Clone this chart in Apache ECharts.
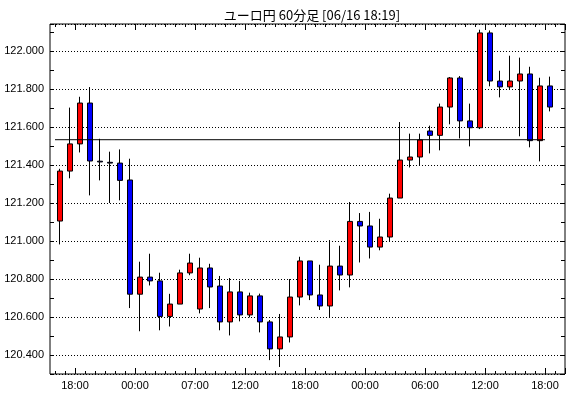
<!DOCTYPE html>
<html>
<head>
<meta charset="utf-8">
<script src="https://cdn.jsdelivr.net/npm/echarts@6/dist/echarts.min.js"></script>
<style>html,body{margin:0;padding:0;background:#fff}#c{width:570px;height:398px}</style>
</head>
<body>
<div id="c"></div>
<script>
const titleText = 'ユーロ円 60分足 [06/16 18:19]';

// hourly categories (last one is an empty slot at the right edge)
const times = ['16:00','17:00','18:00','19:00','20:00','21:00','22:00','23:00',
  '00:00','01:00','02:00','03:00','04:00','05:00','07:00','08:00','09:00','10:00','11:00',
  '12:00','13:00','14:00','15:00','16:00','17:00','18:00','19:00','20:00','21:00','22:00','23:00',
  '00:00','01:00','02:00','03:00','04:00','05:00','06:00','07:00','08:00','09:00','10:00','11:00',
  '12:00','13:00','14:00','15:00','16:00','17:00','18:00',''];
// indices of labelled (major) ticks
const majorIdx = [2, 8, 14, 19, 25, 31, 37, 43, 49];

const openVals  = [121.105,121.368,121.511,121.726,121.420,121.414,121.410,121.321,120.720,120.810,
  120.790,120.603,120.668,120.832,120.642,120.858,120.763,120.574,120.732,120.611,
  120.711,120.574,120.432,120.495,120.705,120.895,120.716,120.658,120.868,120.821,
  121.103,121.079,120.968,121.021,121.226,121.426,121.442,121.579,121.556,121.705,
  121.858,121.632,121.596,122.095,121.842,121.811,121.842,121.879,121.528,121.816];
const closeVals = [121.368,121.511,121.726,121.421,121.416,121.410,121.319,120.720,120.810,120.790,
  120.603,120.668,120.832,120.884,120.858,120.758,120.574,120.732,120.611,120.711,
  120.574,120.432,120.495,120.705,120.895,120.716,120.658,120.868,120.821,121.103,
  121.079,120.968,121.021,121.226,121.426,121.442,121.532,121.556,121.705,121.858,
  121.632,121.596,122.095,121.842,121.811,121.842,121.879,121.528,121.816,121.705];
const lowVals   = [120.982,121.330,121.466,121.240,121.319,121.200,121.214,120.647,120.525,120.766,
  120.530,120.550,120.668,120.820,120.619,120.647,120.530,120.503,120.577,120.598,
  120.519,120.373,120.337,120.466,120.661,120.689,120.637,120.600,120.740,120.756,
  120.887,120.908,120.951,120.998,121.226,121.387,121.400,121.461,121.477,121.614,
  121.540,121.498,121.589,121.814,121.756,121.800,121.551,121.493,121.419,121.682];
const highVals  = [121.380,121.702,121.759,121.810,121.538,121.470,121.482,121.433,120.891,120.933,
  120.833,120.722,120.849,120.933,120.912,120.880,120.816,120.805,120.790,120.728,
  120.723,120.584,120.616,120.800,120.917,120.895,120.875,121.005,120.975,121.205,
  121.147,121.153,121.117,121.249,121.626,121.565,121.565,121.607,121.723,121.863,
  121.868,121.723,122.112,122.108,121.896,121.975,121.965,121.917,121.859,121.865];

// reference level line (value) and its extent in candle-index units
const refLevel = 121.533;
const refFrom = -0.5, refTo = 48.5;

const yMin = 120.3, yMax = 122.142;

const candleData = openVals.map((o, i) => [o, closeVals[i], lowVals[i], highVals[i]]);
const isMajor = (i) => majorIdx.indexOf(i) >= 0;

const gridBase = {top: 24, bottom: 24, right: 5, containLabel: false, outerBoundsMode: 'none'};
const hiddenY = (g) => ({gridIndex: g, type: 'value', min: yMin, max: yMax, show: false});
const tickCat = (g, pos, len, interval, labels) => ({
  gridIndex: g, type: 'category', data: times, position: pos, boundaryGap: true,
  axisLine: {show: false},
  axisTick: {show: true, inside: true, length: len, interval: interval, lineStyle: {color: '#000', width: 1}},
  axisLabel: labels ? {
    show: true, interval: interval, color: '#000', fontFamily: 'Liberation Sans', fontSize: 11,
    margin: 6, padding: [0, 10, 0, 0]
  } : {show: false},
  splitLine: {show: false}
});

const chart = echarts.init(document.getElementById('c'), null, {renderer: 'canvas'});
chart.setOption({
  animation: false,
  backgroundColor: '#fff',
  title: {
    text: titleText, left: 307, top: 4, textAlign: 'center',
    textStyle: {fontFamily: 'Noto Sans CJK JP', fontSize: 13, fontWeight: 'normal', color: '#000'}
  },
  grid: [
    Object.assign({left: 50, show: true, borderColor: '#000', borderWidth: 1, backgroundColor: '#fff'}, gridBase),
    Object.assign({left: 55}, gridBase),
    Object.assign({left: 55}, gridBase),
    Object.assign({left: 55}, gridBase)
  ],
  xAxis: [
    {gridIndex: 0, type: 'value', min: 0, max: 1, show: false},
    tickCat(1, 'bottom', 3, 0, false),
    tickCat(1, 'top', 3, 0, false),
    tickCat(2, 'bottom', 6, isMajor, true),
    tickCat(2, 'top', 6, isMajor, false),
    {gridIndex: 3, type: 'value', min: -0.5, max: times.length - 0.5, show: false}
  ],
  yAxis: [
    {
      gridIndex: 0, type: 'value', min: yMin, max: yMax, splitNumber: 9,
      minInterval: 0.2, maxInterval: 0.2, position: 'left',
      axisLine: {show: false},
      axisTick: {show: true, inside: true, length: 4, lineStyle: {color: '#000'}},
      minorTick: {show: true, splitNumber: 2, length: 4, lineStyle: {color: '#000'}},
      axisLabel: {
        color: '#000', fontFamily: 'Liberation Sans', fontSize: 11, margin: 6,
        showMinLabel: false, showMaxLabel: false,
        formatter: (v) => (Math.abs(v * 5 - Math.round(v * 5)) < 1e-6 ? v.toFixed(3) : '')
      },
      splitLine: {show: true, lineStyle: {color: '#000', width: 1, type: [1, 2]}}
    },
    {
      gridIndex: 0, type: 'value', min: yMin, max: yMax, splitNumber: 9,
      minInterval: 0.2, maxInterval: 0.2, position: 'right',
      axisLine: {show: false},
      axisTick: {show: true, inside: true, length: 4, lineStyle: {color: '#000'}},
      minorTick: {show: true, splitNumber: 2, length: 4, lineStyle: {color: '#000'}},
      axisLabel: {show: false},
      splitLine: {show: false}
    },
    hiddenY(1), hiddenY(2), hiddenY(3)
  ],
  series: [
    {
      type: 'candlestick', xAxisIndex: 1, yAxisIndex: 2,
      data: candleData, barWidth: 6, silent: true,
      itemStyle: {
        color: '#ff0000', color0: '#0000ff',
        borderColor: '#000000', borderColor0: '#000000', borderColorDoji: '#000000',
        borderWidth: 1
      }
    },
    {
      type: 'line', xAxisIndex: 5, yAxisIndex: 4, silent: true, symbol: 'none', z: 5,
      data: [[refFrom, refLevel], [refTo, refLevel]],
      lineStyle: {color: '#000', width: 1, type: 'solid'}
    }
  ]
});
</script>
</body>
</html>
